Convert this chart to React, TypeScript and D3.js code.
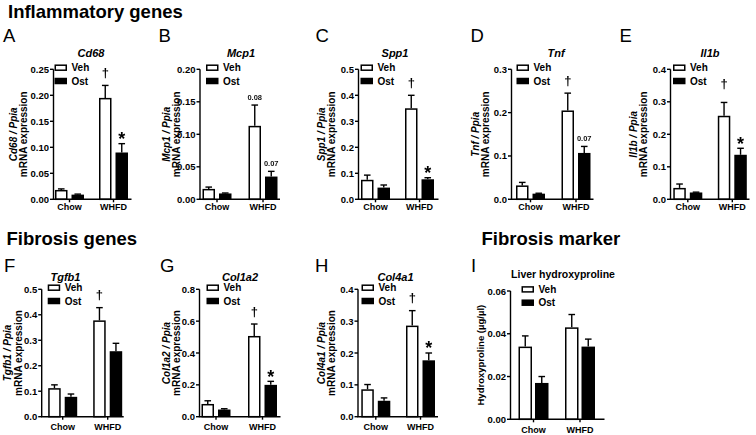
import React from "react";
import * as d3 from "d3";

// ---------- DATA ----------
const groups = ["Chow", "WHFD"];
const series = ["Veh", "Ost"];
const panelLetters = ["A", "B", "C", "D", "E", "F", "G", "H", "I"];
const panelTitles = ["Cd68", "Mcp1", "Spp1", "Tnf", "Il1b", "Tgfb1", "Col1a2", "Col4a1", "Liver hydroxyproline"];
const sectionTitles = ["Inflammatory genes", "Fibrosis genes", "Fibrosis marker"];
const yLabelRef = " / Ppia";
const yLabelSecond = "mRNA expression";
const yLabelHyp = "Hydroxyproline (µg/µl)";

const vehMean = [
  [0.018, 0.195],
  [0.016, 0.113],
  [0.075, 0.35],
  [0.032, 0.205],
  [0.035, 0.257],
  [0.112, 0.378],
  [0.08, 0.507],
  [0.086, 0.286],
  [0.034, 0.043],
];
const vehErr = [
  [0.002, 0.024],
  [0.0028, 0.032],
  [0.018, 0.05],
  [0.007, 0.04],
  [0.012, 0.041],
  [0.013, 0.05],
  [0.02, 0.075],
  [0.015, 0.047],
  [0.005, 0.006],
];
const ostMean = [
  [0.009, 0.09],
  [0.009, 0.035],
  [0.045, 0.077],
  [0.013, 0.107],
  [0.021, 0.137],
  [0.078, 0.257],
  [0.045, 0.2],
  [0.05, 0.177],
  [0.017, 0.034],
];
const ostErr = [
  [0.001, 0.017],
  [0.0007, 0.008],
  [0.01, 0.006],
  [0.001, 0.015],
  [0.001, 0.02],
  [0.011, 0.031],
  [0.005, 0.022],
  [0.009, 0.023],
  [0.003, 0.0035],
];
const yMax = [0.25, 0.2, 0.5, 0.3, 0.4, 0.5, 0.8, 0.4, 0.06];
const yStep = [0.05, 0.05, 0.1, 0.1, 0.1, 0.1, 0.2, 0.1, 0.02];
const tickDecimals = [2, 2, 1, 1, 1, 1, 1, 1, 2];
const vehMark = ["†", "0.08", "†", "†", "†", "†", "†", "†", ""];
const ostMark = ["*", "0.07", "*", "0.07", "*", "", "*", "*", ""];

// ---------- LAYOUT ----------
type L = {
  ax: number; top: number; bottom: number; w: number; c: [number, number];
  bw: number; gap: number; letterX: number; letterY: number; titleX: number; titleY: number;
  yl: number[]; legX: number; xlabOff: number; dagGap: number;
};
const topRow = { top: 69.3, bottom: 199.3, letterY: 41.7, titleY: 56.5, xlabOff: 10.8 };
const botRow = { top: 289.3, bottom: 416.7, letterY: 271.7, titleY: 280.5, xlabOff: 13.3 };
const layout: L[] = [
  { ...topRow, ax: 53.5, w: 78, c: [16, 60], bw: 12.5, gap: 4, letterX: 3, titleX: 91, yl: [13, 23], legX: 1, dagGap: 12.5 },
  { ...topRow, ax: 200, w: 80, c: [17, 63], bw: 12.5, gap: 4, letterX: 158.5, titleX: 241, yl: [166.5, 176.5], legX: 6, dagGap: 12.5 },
  { ...topRow, ax: 358.5, w: 80, c: [17, 61], bw: 12.5, gap: 4, letterX: 315.5, titleX: 395, yl: [321, 331], legX: 2, dagGap: 12.5 },
  { ...topRow, ax: 511.5, w: 82, c: [19, 64.5], bw: 12.5, gap: 4, letterX: 470.5, titleX: 556, yl: [475.5, 485.5], legX: 5, dagGap: 12.5 },
  { ...topRow, ax: 670.5, w: 79, c: [17.3, 61.8], bw: 12.5, gap: 4, letterX: 619.5, titleX: 710, yl: [633, 643.5], legX: 2.5, dagGap: 18 },
  { ...botRow, ax: 41.7, w: 82, c: [21, 66], bw: 12.5, gap: 4, letterX: 4, titleX: 65.5, yl: [7.5, 18], legX: 6, dagGap: 12.5 },
  { ...botRow, ax: 199.5, w: 81, c: [16.5, 63], bw: 12.5, gap: 4, letterX: 160, titleX: 240, yl: [166, 176], legX: 7, dagGap: 12.5 },
  { ...botRow, ax: 358, w: 80, c: [17.8, 62.5], bw: 12.5, gap: 4, letterX: 315, titleX: 395.5, yl: [321, 331], legX: 3.5, dagGap: 12.5 },
  { ...botRow, top: 291, bottom: 419.3, ax: 510.5, w: 94, c: [23, 69.5], bw: 13.5, gap: 3, letterX: 471, titleX: 563, titleY: 278, yl: [480], legX: 11, dagGap: 12.5 },
];

const FONT = "'Liberation Sans', Arial, Helvetica, sans-serif";

function Panel({ i }: { i: number }) {
  const L = layout[i];
  const y = d3.scaleLinear().domain([0, yMax[i]]).range([L.bottom, L.top]);
  const s = L.c[1] - L.c[0];
  const xg = d3.scaleBand<string>().domain(groups).range([L.ax + L.c[0] - s / 2, L.ax + L.c[1] + s / 2]);
  const half = L.bw + L.gap / 2;
  const pin = L.gap / (L.bw + L.gap);
  const xs = d3.scaleBand<string>().domain(series).range([-half, half]).paddingInner(pin);
  const ticks = d3.range(0, yMax[i] + yStep[i] / 2, yStep[i]);
  const fmt = d3.format(`.${tickDecimals[i]}f`);
  const means = [vehMean[i], ostMean[i]];
  const errs = [vehErr[i], ostErr[i]];
  const marks = [vehMark[i], ostMark[i]];
  const midY = (L.top + L.bottom) / 2;
  const stroke = 1.4;

  return (
    <g>
      <text x={L.letterX} y={L.letterY} fontSize={18.5} fontFamily={FONT}>{panelLetters[i]}</text>
      <text x={L.titleX} y={L.titleY} fontSize={i === 8 ? 10.5 : 11} fontWeight="bold"
        fontStyle={i === 8 ? "normal" : "italic"} textAnchor="middle" fontFamily={FONT}>{panelTitles[i]}</text>
      {i < 8 ? (
        <>
          <text transform={`translate(${L.yl[0]},${midY}) rotate(-90)`} textAnchor="middle" dominantBaseline="central"
            fontSize={10} fontWeight="bold" fontStyle="italic" fontFamily={FONT}>{panelTitles[i] + yLabelRef}</text>
          <text transform={`translate(${L.yl[1]},${midY}) rotate(-90)`} textAnchor="middle" dominantBaseline="central"
            fontSize={10} fontWeight="bold" fontFamily={FONT}>{yLabelSecond}</text>
        </>
      ) : (
        <text transform={`translate(${L.yl[0]},${midY}) rotate(-90)`} textAnchor="middle" dominantBaseline="central"
          fontSize={9.5} fontWeight="bold" fontFamily={FONT}>{yLabelHyp}</text>
      )}
      {groups.map((g, gi) =>
        series.map((sr, si) => {
          const x0 = (xg(g) as number) + xg.bandwidth() / 2 + (xs(sr) as number);
          const bw = xs.bandwidth();
          const v = means[si][gi];
          const e = errs[si][gi];
          const yTop = y(v);
          const yErr = y(v + e);
          const cx = x0 + bw / 2;
          const mk = gi === 1 ? marks[si] : "";
          return (
            <g key={g + sr}>
              <line x1={cx} x2={cx} y1={yTop} y2={yErr} stroke="#000" strokeWidth={1.4} />
              <line x1={cx - 3.3} x2={cx + 3.3} y1={yErr} y2={yErr} stroke="#000" strokeWidth={1.4} />
              {si === 0 ? (
                <rect x={x0 + 0.75} y={yTop + 0.75} width={bw - 1.5} height={Math.max(0, L.bottom - yTop - 0.75)}
                  fill="#fff" stroke="#000" strokeWidth={1.5} />
              ) : (
                <rect x={x0} y={yTop} width={bw} height={L.bottom - yTop} fill="#000" />
              )}
              <g filter="url(#gray)">
                {mk === "†" && (
                  <text x={cx} y={yErr - L.dagGap + 4} textAnchor="middle" fontSize={13} fontWeight="bold" fill="#000" fontFamily={FONT}>{mk}</text>
                )}
                {mk === "*" && (
                  <text x={cx} y={yErr - 9 + 10.4} textAnchor="middle" fontSize={18} fontWeight="bold" fill="#000" fontFamily={FONT}>{mk}</text>
                )}
                {mk !== "" && mk !== "†" && mk !== "*" && (
                  <text x={cx} y={yErr - 8 + 2.7} textAnchor="middle" fontSize={7.5} fontWeight="bold" fill="#111" fontFamily={FONT}>{mk}</text>
                )}
              </g>
            </g>
          );
        })
      )}
      <line x1={L.ax} x2={L.ax} y1={L.top} y2={L.bottom} stroke="#000" strokeWidth={stroke} />
      {ticks.map((t) => (
        <g key={t}>
          <line x1={L.ax - 3.5} x2={L.ax} y1={y(t)} y2={y(t)} stroke="#000" strokeWidth={stroke} />
          <text x={L.ax - 4.5} y={y(t)} textAnchor="end" dominantBaseline="central" fontSize={9.5}
            fontWeight="bold" fontFamily={FONT}>{fmt(t)}</text>
        </g>
      ))}
      <line x1={L.ax - stroke / 2} x2={L.ax + L.w} y1={L.bottom} y2={L.bottom} stroke="#000" strokeWidth={stroke} />
      {groups.map((g) => {
        const cx = (xg(g) as number) + xg.bandwidth() / 2;
        return (
          <g key={g}>
            <line x1={cx} x2={cx} y1={L.bottom} y2={L.bottom + 3} stroke="#000" strokeWidth={stroke} />
            <text x={cx} y={L.bottom + L.xlabOff} textAnchor="middle" fontSize={9} fontWeight="bold" fontFamily={FONT}>{g}</text>
          </g>
        );
      })}
      {series.map((sr, si) => {
        const cy = L.top - 1.6 + si * 13.3;
        const bx = L.ax + L.legX;
        return (
          <g key={sr}>
            {si === 0 ? (
              <rect x={bx + 0.75} y={cy - 3.25 + 0.75} width={11} height={5} fill="#fff" stroke="#000" strokeWidth={1.5} />
            ) : (
              <rect x={bx} y={cy - 3.25} width={12.5} height={6.5} fill="#000" />
            )}
            <text x={bx + 17} y={cy} dominantBaseline="central" fontSize={10} fontWeight="bold" fontFamily={FONT}>{sr}</text>
          </g>
        );
      })}
    </g>
  );
}

export default function App() {
  return (
    <svg width={756} height={435} style={{ position: "absolute", left: 0, top: 0, background: "#fff" }}>
      <defs>
        <filter id="gray" x="-50%" y="-50%" width="200%" height="200%">
          <feColorMatrix type="saturate" values="0" />
        </filter>
      </defs>
      <rect width={756} height={435} fill="#fff" />
      <text x={8} y={18} fontSize={18.5} fontWeight="bold" fontFamily={FONT}>{sectionTitles[0]}</text>
      <text x={6.5} y={245} fontSize={18.5} fontWeight="bold" fontFamily={FONT}>{sectionTitles[1]}</text>
      <text x={481.5} y={245} fontSize={18.5} fontWeight="bold" fontFamily={FONT}>{sectionTitles[2]}</text>
      {layout.map((_, i) => (
        <Panel key={i} i={i} />
      ))}
    </svg>
  );
}
